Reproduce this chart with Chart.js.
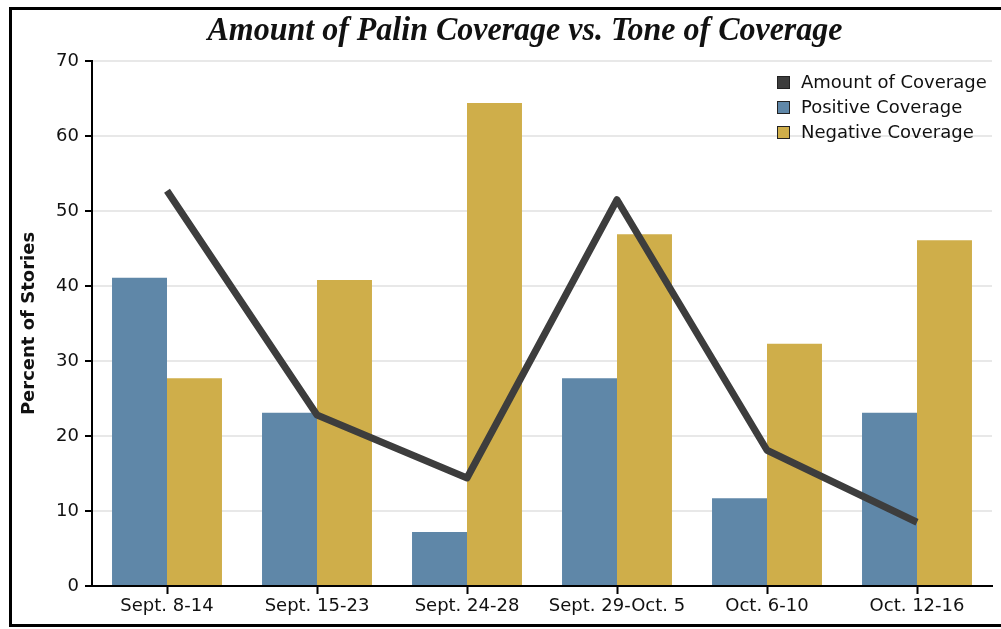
<!DOCTYPE html>
<html>
<head>
<meta charset="utf-8">
<script src="https://cdn.jsdelivr.net/npm/chart.js@4.4.0/dist/chart.umd.min.js"></script>
<style>
  body { margin: 0; background: #fff; }
  #wrap { position: relative; width: 1001px; height: 629px; }
</style>
</head>
<body>
<div id="wrap"><canvas id="myChart" width="1001" height="629"></canvas></div>
<script>
// данные графика
const categories = ['Sept. 8-14', 'Sept. 15-23', 'Sept. 24-28', 'Sept. 29-Oct. 5', 'Oct. 6-10', 'Oct. 12-16']
const amountOfCoverage = [52.7, 22.8, 14.4, 51.5, 18.1, 8.5]
const positiveCoverage = [41.1, 23.1, 7.2, 27.7, 11.7, 23.1]
const negativeCoverage = [27.7, 40.8, 64.4, 46.9, 32.3, 46.1]
const yTicks = [0, 10, 20, 30, 40, 50, 60, 70]

const titleText = 'Amount of Palin Coverage vs. Tone of Coverage'

// рамка, заголовок и легенда рисуем сами
const framePlugin = {
  id: 'frame',
  afterDraw(chart) {
    const ctx = chart.ctx
    ctx.save()
    // рамка
    ctx.strokeStyle = '#000'
    ctx.lineWidth = 3
    ctx.beginPath()
    ctx.moveTo(1004, 8.5)
    ctx.lineTo(10.5, 8.5)
    ctx.lineTo(10.5, 625.5)
    ctx.lineTo(1004, 625.5)
    ctx.stroke()

    // заголовок
    ctx.font = 'italic bold 34px "Liberation Serif"'
    ctx.fillStyle = '#111'
    ctx.textAlign = 'center'
    ctx.textBaseline = 'middle'
    const w = ctx.measureText(titleText).width
    const sx = 635 / w
    ctx.translate(525, 31)
    ctx.scale(sx, 1)
    ctx.fillText(titleText, 0, 0)
    ctx.setTransform(1, 0, 0, 1, 0, 0)

    // легенда
    const items = chart.data.datasets
    ctx.font = '18px "DejaVu Sans"'
    ctx.textAlign = 'left'
    ctx.textBaseline = 'middle'
    items.forEach((ds, i) => {
      const y = 83 + i * 25
      ctx.fillStyle = ds.legendColor
      ctx.fillRect(777, y - 7, 13, 13)
      ctx.strokeStyle = '#222'
      ctx.lineWidth = 1
      ctx.strokeRect(777.5, y - 6.5, 12, 12)
      ctx.fillStyle = '#111'
      ctx.fillText(ds.label, 801, y)
    })
    ctx.restore()
  }
}

new Chart(document.getElementById('myChart'), {
  data: {
    labels: categories,
    datasets: [
      {
        type: 'line',
        label: 'Amount of Coverage',
        data: amountOfCoverage,
        borderColor: '#3d3d3d',
        backgroundColor: '#3d3d3d',
        legendColor: '#3d3d3d',
        borderWidth: 7,
        pointRadius: 0,
        tension: 0,
        borderJoinStyle: 'round',
        order: 0
      },
      {
        type: 'bar',
        label: 'Positive Coverage',
        data: positiveCoverage,
        backgroundColor: '#5f87a8',
        legendColor: '#5f87a8',
        barPercentage: 1,
        categoryPercentage: 0.733,
        order: 1
      },
      {
        type: 'bar',
        label: 'Negative Coverage',
        data: negativeCoverage,
        backgroundColor: '#cfae4a',
        legendColor: '#cfae4a',
        barPercentage: 1,
        categoryPercentage: 0.733,
        order: 1
      }
    ]
  },
  options: {
    responsive: false,
    animation: false,
    layout: {
      padding: { top: 61, right: 9, left: 0, bottom: 0 }
    },
    plugins: {
      legend: { display: false },
      title: { display: false },
      tooltip: { enabled: false }
    },
    scales: {
      x: {
        offset: true,
        grid: {
          offset: false,
          drawOnChartArea: false,
          tickColor: '#000',
          tickLength: 8,
          tickWidth: 2
        },
        border: { color: '#000', width: 2 },
        ticks: {
          color: '#111',
          font: { family: 'DejaVu Sans', size: 18 },
          padding: 2,
          maxRotation: 0,
          autoSkip: false
        },
        afterFit(scale) { scale.height = 43 }
      },
      y: {
        min: 0,
        max: 70,
        afterBuildTicks(scale) { scale.ticks = yTicks.map(v => ({ value: v })) },
        grid: {
          color: '#e8e8e8',
          lineWidth: 2,
          tickColor: '#000',
          tickLength: 7,
          tickWidth: 2
        },
        border: { color: '#000', width: 2 },
        ticks: {
          color: '#111',
          font: { family: 'DejaVu Sans', size: 18 },
          padding: 6
        },
        title: {
          display: true,
          text: 'Percent of Stories',
          color: '#111',
          font: { family: 'DejaVu Sans', size: 18, weight: 'bold' },
          padding: { top: 19, bottom: 0 }
        },
        afterFit(scale) { scale.width = 92 }
      }
    }
  },
  plugins: [framePlugin]
})
</script>
</body>
</html>
